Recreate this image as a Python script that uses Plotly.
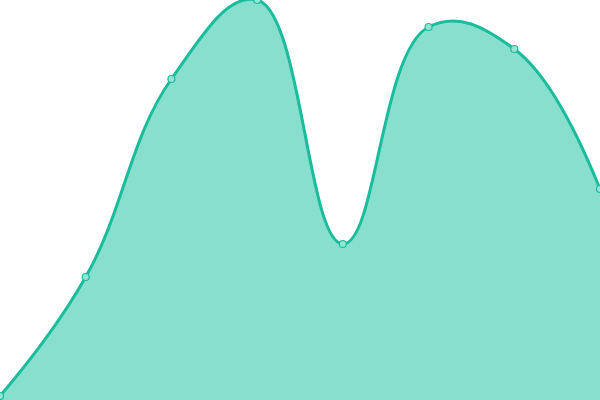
import plotly.graph_objects as go

# data
x_vals = [0, 1, 2, 3, 4, 5, 6, 7]
y_vals = [4, 123, 321, 400, 156, 373, 351, 211]

line_col = '#1abc9c'
fill_col = '#89dfce'

fig = go.Figure()
fig.add_trace(go.Scatter(
    x=x_vals, y=y_vals,
    mode='lines+markers',
    line=dict(color=line_col, width=3, shape='spline', smoothing=1.2),
    marker=dict(size=7, color='#95e3d3', line=dict(color=line_col, width=1.2)),
    fill='tozeroy', fillcolor=fill_col,
    cliponaxis=False,
))

fig.update_layout(
    width=600, height=400,
    margin=dict(l=0, r=0, t=0, b=0),
    paper_bgcolor='white', plot_bgcolor='white',
    showlegend=False,
    xaxis=dict(visible=False, range=[0, 7]),
    yaxis=dict(visible=False, range=[0, 400]),
)

# drop the browser's default body margin so the chart sits at 0,0
fig.write_html("out.html", config={'displayModeBar': False},
               post_script="document.body.style.margin='0';")
